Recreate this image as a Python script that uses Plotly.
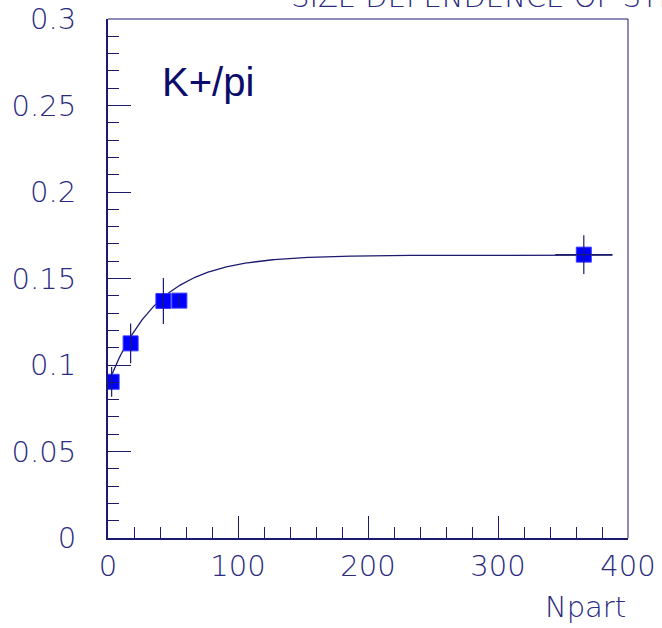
import numpy as np
import plotly.graph_objects as go

# K+/pi ratio versus number of participants
npart = [2.8, 17.4, 42.6, 54.9, 366.0]
ratio = [0.0903, 0.1125, 0.1370, 0.1372, 0.1638]
ratio_err = [0.0086, 0.0115, 0.0133, 0.0030, 0.0112]
npart_err = [0.0, 0.0, 0.0, 0.0, 22.0]

# saturating-exponential fit: A - B*exp(-Npart/C)
fit_A, fit_B, fit_C = 0.1635, 0.0746, 38.0
fit_range = (2.0, 388.0)

navy = "#1a1a6e"
label_font = dict(family="DejaVu Sans", size=29, color="#2a2a80", weight=200)

fit_x = np.linspace(fit_range[0], fit_range[1], 400)
fit_y = fit_A - fit_B * np.exp(-fit_x / fit_C)

fig = go.Figure()
fig.add_trace(go.Scatter(
    x=fit_x, y=fit_y, mode="lines",
    line=dict(color=navy, width=1.3), hoverinfo="skip", showlegend=False,
))
fig.add_trace(go.Scatter(
    x=npart, y=ratio, mode="markers",
    marker=dict(symbol="square", size=15, color="#0000ff",
                line=dict(color="#3a3aff", width=1)),
    showlegend=False,
))
# error bars drawn over the markers
fig.add_trace(go.Scatter(
    x=npart, y=ratio, mode="markers",
    marker=dict(size=1, color="rgba(0,0,0,0)"),
    error_y=dict(type="data", array=ratio_err, color=navy, thickness=1.2, width=0),
    error_x=dict(type="data", array=npart_err, color=navy, thickness=1.2, width=0),
    showlegend=False, hoverinfo="skip",
))

fig.update_layout(
    width=662, height=628,
    margin=dict(l=108, r=34, t=19, b=90),
    paper_bgcolor="white", plot_bgcolor="white",
    showlegend=False,
    xaxis=dict(
        range=[0, 400], showgrid=False, zeroline=False, automargin=False,
        showline=True, linecolor=navy, linewidth=2, mirror=False,
        ticks="inside", ticklen=22, tickcolor=navy, tickwidth=1,
        tick0=0, dtick=100,
        minor=dict(ticks="inside", ticklen=11, dtick=20, tickcolor=navy, tickwidth=1),
        tickfont=label_font, ticklabelstandoff=1,
    ),
    yaxis=dict(
        range=[0, 0.3], showgrid=False, zeroline=False, automargin=False,
        showline=True, linecolor=navy, linewidth=2, mirror=False,
        ticks="inside", ticklen=23, tickcolor=navy, tickwidth=1,
        tick0=0, dtick=0.05, tickformat="~g",
        minor=dict(ticks="inside", ticklen=11, dtick=0.01, tickcolor=navy, tickwidth=1),
        tickfont=label_font, ticklabelstandoff=24,
    ),
    shapes=[
        dict(type="line", xref="paper", yref="paper", x0=0, x1=1, y0=1, y1=1,
             line=dict(color=navy, width=1)),
        dict(type="line", xref="paper", yref="paper", x0=1, x1=1, y0=0, y1=1,
             line=dict(color=navy, width=1)),
    ],
    annotations=[
        dict(text="K+/pi", xref="x", yref="y", x=40, y=0.2633,
             xanchor="left", yanchor="middle", showarrow=False,
             font=dict(family="Liberation Sans", size=40, color="#0c0c6a")),
        dict(text="Npart", xref="paper", yref="paper", x=1.0, y=-0.133,
             xanchor="right", yanchor="middle", showarrow=False,
             font=label_font),
        dict(text="SIZE DEPENDENCE OF STRANGENESS", xref="paper", yref="paper",
             x=0.348, y=1.0, yshift=3, xanchor="left", yanchor="bottom",
             showarrow=False, font=dict(label_font, size=29)),
    ],
)

fig.write_html("out.html")
